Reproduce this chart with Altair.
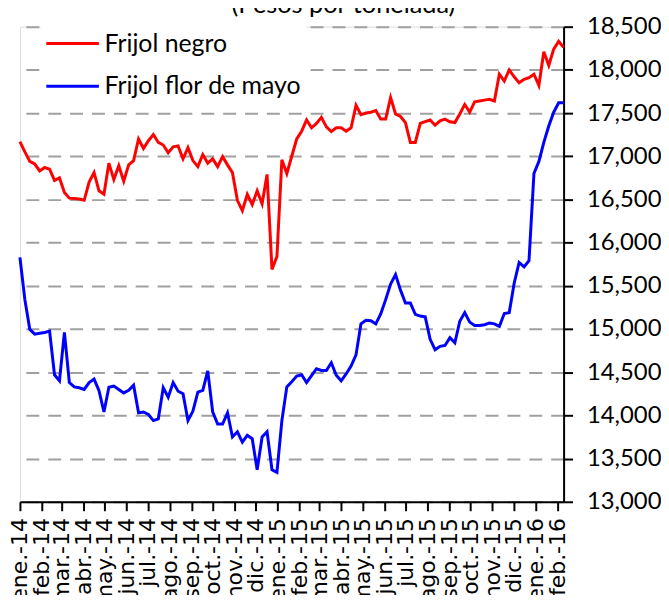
import json
import altair as alt
import pandas as pd

series_names = ["Frijol negro", "Frijol flor de mayo"]
series_colors = ["#FF0000", "#0000FF"]

negro = [
    17170, 17050, 16940, 16910, 16830, 16870, 16850, 16720, 16750, 16580,
    16515, 16510, 16505, 16490, 16700, 16810, 16600, 16560, 16920, 16730,
    16890, 16710, 16900, 16950, 17200, 17090, 17180, 17250, 17160, 17130,
    17040, 17110, 17120, 16970, 17100, 16950, 16880, 17020, 16920, 16970,
    16880, 16995, 16900, 16810, 16490, 16370, 16560, 16440, 16600, 16450,
    16790, 15690, 15840, 16960, 16800, 17000, 17200, 17290, 17420, 17330,
    17380, 17450, 17340, 17285, 17330, 17330, 17290, 17330, 17590, 17480,
    17500, 17510, 17530, 17430, 17430, 17680, 17490, 17460, 17390, 17160,
    17160, 17380, 17400, 17420, 17360, 17410, 17430, 17400, 17390, 17490,
    17600, 17510, 17630, 17640, 17650, 17660, 17640, 17950, 17870, 18000,
    17920, 17850, 17890, 17910, 17950, 17820, 18210, 18050, 18240, 18330, 18260,
]

flor = [
    15830, 15340, 14995, 14940, 14950, 14960, 14975, 14470, 14400, 14960,
    14380, 14330, 14320, 14300, 14380, 14420, 14285, 14040, 14325, 14340,
    14300, 14260, 14290, 14350, 14030, 14040, 14010, 13940, 13960, 14320,
    14210, 14380, 14280, 14250, 13940, 14050, 14270, 14290, 14515, 14040,
    13900, 13900, 14030, 13750, 13810, 13690, 13770, 13730, 13370, 13750,
    13810, 13370, 13340, 13940, 14330, 14390, 14455, 14470, 14380, 14460,
    14540, 14520, 14520, 14610, 14465, 14400, 14480, 14570, 14700, 15060,
    15100, 15095, 15060, 15175, 15340, 15520, 15630, 15450, 15300, 15300,
    15170, 15150, 15140, 14880, 14760, 14800, 14810, 14900, 14840, 15090,
    15190, 15080, 15040, 15040, 15050, 15070, 15060, 15030, 15180, 15190,
    15530, 15770, 15720, 15790, 16800, 16940, 17160, 17350, 17510, 17620, 17620,
]

meses = [
    "ene.-14", "feb.-14", "mar.-14", "abr.-14", "may.-14", "jun.-14",
    "jul.-14", "ago.-14", "sep.-14", "oct.-14", "nov.-14", "dic.-14",
    "ene.-15", "feb.-15", "mar.-15", "abr.-15", "may.-15", "jun.-15",
    "jul.-15", "ago.-15", "sep.-15", "oct.-15", "nov.-15", "dic.-15",
    "ene.-16", "feb.-16",
]

y_ticks = list(range(13000, 18501, 500))

fechas = pd.date_range("2014-01-01", periods=len(negro), freq="7D")
rows = []
for f, a, b in zip(fechas, negro, flor):
    d = f.strftime("%Y-%m-%dT00:00:00")
    rows.append({"fecha": d, "serie": series_names[0], "precio": a})
    rows.append({"fecha": d, "serie": series_names[1], "precio": b})
df = pd.DataFrame(rows)

FONT = "Lato"
XFONT = "DejaVu Sans"
tick_dates = [alt.DateTime(year=2014 + i // 12, month=i % 12 + 1, date=1) for i in range(len(meses))]
label_expr = f"{json.dumps(meses)}[(year(datum.value)-2014)*12+month(datum.value)]"

chart = alt.Chart(df).mark_line(strokeWidth=3).encode(
    x=alt.X(
        "fecha:T",
        scale=alt.Scale(nice=False, padding=0),
        axis=alt.Axis(
            values=tick_dates, labelExpr=label_expr, title=None, grid=False,
            labelAngle=270, labelAlign="right", labelBaseline="middle",
            labelFontSize=22, labelFont=XFONT, labelColor="black", labelPadding=7,
            domainColor="black", domainWidth=2, tickColor="black", tickWidth=2,
            tickSize=9, labelOverlap=False, labelFlush=False,
        ),
    ),
    y=alt.Y(
        "precio:Q",
        scale=alt.Scale(domain=[13000, 18500], nice=False, zero=False),
        axis=alt.Axis(
            orient="right", values=y_ticks, format=",.0f", title=None,
            labelFontSize=24, labelFont=FONT, labelColor="black", labelPadding=14,
            domainColor="black", domainWidth=2, tickColor="black", tickWidth=2,
            tickSize=9, grid=True, gridColor="#A0A0A0", gridDash=[13, 9], gridWidth=2,
        ),
    ),
    color=alt.Color(
        "serie:N",
        scale=alt.Scale(domain=series_names, range=series_colors),
        legend=alt.Legend(
            orient="none", legendX=21, legendY=-15, title=None,
            symbolType="stroke", symbolSize=2800, symbolStrokeWidth=3,
            labelFontSize=25, labelFont=FONT, labelColor="black", labelOffset=4,
            labelLimit=400, fillColor="white", padding=4, rowPadding=2,
        ),
    ),
    order=alt.Order("fecha:T"),
).properties(
    width=547,
    height=478,
    autosize=alt.AutoSizeParams(type="none"),
    padding={"left": 12, "top": 17, "right": 98, "bottom": 92},
    title=alt.TitleParams(
        "(Pesos por tonelada)", fontSize=25.5, font=FONT, fontWeight="normal",
        anchor="middle", baseline="alphabetic", offset=0, dy=27, dx=52, color="black",
    ),
).configure_view(stroke=None).configure(background="white")

chart.save("out.html", embed_options={"renderer": "svg", "actions": False})
